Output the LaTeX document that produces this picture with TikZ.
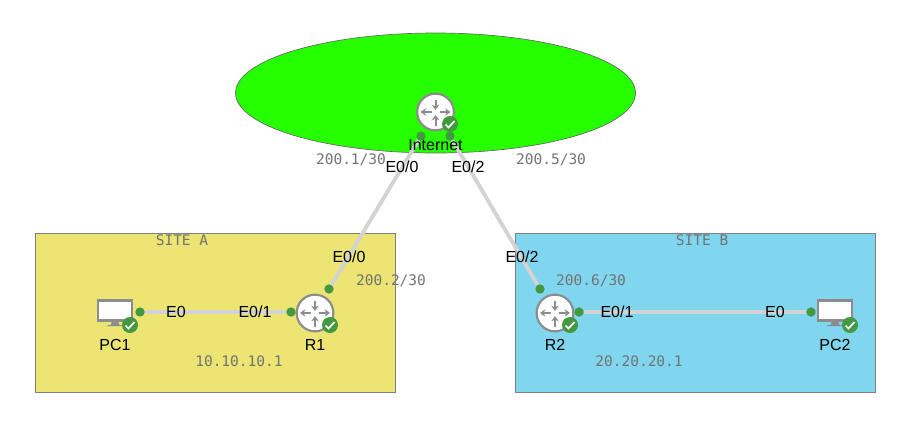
\documentclass[tikz,border=0pt]{standalone}
\usepackage{fontspec}
\setmainfont{Liberation Sans}
\setmonofont{DejaVu Sans Mono}
\usetikzlibrary{shapes.geometric,arrows.meta,calc}
\definecolor{cloudgreen}{HTML}{26FF00}
\definecolor{sitea}{HTML}{ECE473}
\definecolor{siteb}{HTML}{7FD6EE}
\definecolor{okgreen}{HTML}{43993F}
\definecolor{linkgray}{HTML}{D3D3D3}
\definecolor{icongray}{HTML}{8C8C8C}

\begin{document}
\begin{tikzpicture}[
    x=0.75pt, y=-0.75pt,
    cloud/.style={draw=black!60, fill=cloudgreen, ellipse, line width=0.5pt, minimum width=300pt, minimum height=90pt, inner sep=0pt},
    site/.style={draw=black!50, line width=0.5pt, rectangle, minimum width=270pt, minimum height=119.25pt, inner sep=0pt},
    router/.style={draw=icongray, fill=white, circle, line width=1.6pt, minimum size=27.5pt, inner sep=0pt},
    monitor/.style={draw=icongray, fill=white, rectangle, line width=1.6pt, minimum width=25.5pt, minimum height=15pt, inner sep=0pt},
    status/.style={fill=okgreen, circle, minimum size=12pt, inner sep=0pt},
    port/.style={fill=okgreen, circle, minimum size=7pt, inner sep=0pt},
    link/.style={draw=linkgray, line width=2.9pt},
    glyph/.style={draw=icongray, line width=1.5pt, -{Stealth[length=4pt,width=5.6pt]}},
    tick/.style={draw=white, line width=1.3pt},
    ifname/.style={font=\fontsize{12}{14}\selectfont, text=black},
    addr/.style={font=\ttfamily\fontsize{10.9}{13}\selectfont, text=black!55}
]
\useasboundingbox (0,0) rectangle (911,425);

% Backgrounds
\node[cloud] (cloud) at (435.5,93) {};
\node[site, fill=sitea] (sitea) at (215,312.5) {};
\node[site, fill=siteb] (siteb) at (695,312.5) {};

% Ports
\node[port] (inete0) at (421,136) {};
\node[port] (inete2) at (450,136) {};
\node[port] (r1e0) at (329,289) {};
\node[port] (r1e1) at (291,312) {};
\node[port] (r2e2) at (540,289) {};
\node[port] (r2e1) at (579,312) {};
\node[port] (pc1e0) at (140,312) {};
\node[port] (pc2e0) at (811,312) {};

% Links
\draw[link] (inete0) -- (r1e0);
\draw[link] (inete2) -- (r2e2);
\draw[link] (pc1e0) -- (r1e1);
\draw[link] (r2e1) -- (pc2e0);

% Devices
\node[router] (inet) at (435.5,112) {};
\node[router] (r1) at (315,313) {};
\node[router] (r2) at (555,313) {};
\node[monitor] (pc1) at (115,310.5) {};
\node[monitor] (pc2) at (835,310.5) {};

\foreach \rtr in {inet,r1,r2} {
    \draw[glyph] ($(\rtr)+(0,-12)$) -- ($(\rtr)+(0,-2)$);
    \draw[glyph] ($(\rtr)+(0,14)$) -- ($(\rtr)+(0,3)$);
    \draw[glyph] ($(\rtr)+(-4,0)$) -- ($(\rtr)+(-15,0)$);
    \draw[glyph] ($(\rtr)+(4,0)$) -- ($(\rtr)+(15,0)$);
}
\foreach \pc in {pc1,pc2} {
    \fill[icongray] ($(\pc)+(-3,10)$) -- ($(\pc)+(3,10)$) -- ($(\pc)+(4,14)$) -- ($(\pc)+(9,15.5)$) -- ($(\pc)+(-9,15.5)$) -- ($(\pc)+(-4,14)$) -- cycle;
}

% Status marks
\node[status] (inetok) at (450,124) {};
\node[status] (r1ok) at (330,325) {};
\node[status] (r2ok) at (570,325) {};
\node[status] (pc1ok) at (130,325) {};
\node[status] (pc2ok) at (850,325) {};
\foreach \stat in {inetok,r1ok,r2ok,pc1ok,pc2ok} {
    \draw[tick] ($(\stat)+(-4.5,0.5)$) -- ($(\stat)+(-1.5,3.5)$) -- ($(\stat)+(4.5,-3)$);
}

% Device names
\node[ifname] (inetname) at (435.5,145) {Internet};
\node[ifname] (r1name) at (315,344.5) {R1};
\node[ifname] (r2name) at (555,344.5) {R2};
\node[ifname] (pc1name) at (115,344.5) {PC1};
\node[ifname] (pc2name) at (835,344.5) {PC2};

% Interfaces
\node[ifname] (lblinet0) at (402,167) {E0/0};
\node[ifname] (lblinet2) at (468,167) {E0/2};
\node[ifname] (lblr1e0) at (349,257) {E0/0};
\node[ifname] (lblr2e2) at (522,257) {E0/2};
\node[ifname] (lblpc1) at (176,312) {E0};
\node[ifname] (lblr1e1) at (255,312) {E0/1};
\node[ifname] (lblr2e1) at (617,312) {E0/1};
\node[ifname] (lblpc2) at (775,312) {E0};

% Addresses
\node[addr] (addr1) at (351,160) {200.1/30};
\node[addr] (addr5) at (551,160) {200.5/30};
\node[addr] (addr2) at (391,281) {200.2/30};
\node[addr] (addr6) at (591,281) {200.6/30};
\node[addr] (lana) at (239,361) {10.10.10.1};
\node[addr] (lanb) at (639,361) {20.20.20.1};
\node[addr] (titlea) at (182,240) {SITE A};
\node[addr] (titleb) at (702,240) {SITE B};

\end{tikzpicture}
\end{document}
